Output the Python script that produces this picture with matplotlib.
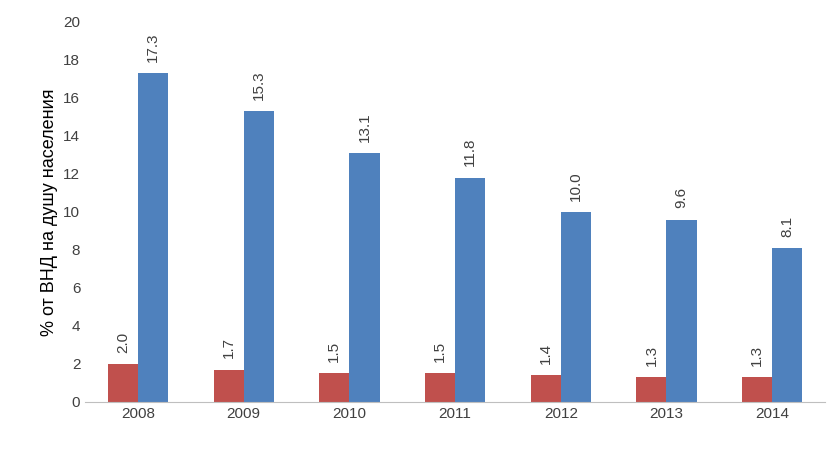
import numpy as np
import matplotlib.pyplot as plt

plt.rcParams["font.family"] = "Liberation Sans"

years = ["2008", "2009", "2010", "2011", "2012", "2013", "2014"]
red_vals = [2.0, 1.7, 1.5, 1.5, 1.4, 1.3, 1.3]
blue_vals = [17.3, 15.3, 13.1, 11.8, 10.0, 9.6, 8.1]
y_ticks = [0, 2, 4, 6, 8, 10, 12, 14, 16, 18, 20]

fig = plt.figure(figsize=(8.35, 4.55), dpi=100)
ax = fig.add_axes([0.102, 0.1165, 0.886, 0.8355])

x = np.arange(len(years))
w = 0.285
rb = ax.bar(x - w / 2, red_vals, w, color="#C0504D")
bb = ax.bar(x + w / 2, blue_vals, w, color="#4F81BD")

for bars, vals in ((rb, red_vals), (bb, blue_vals)):
    for b, v in zip(bars, vals):
        ax.text(b.get_x() + b.get_width() / 2, v + 0.6, f"{v:.1f}",
                rotation=90, ha="center", va="bottom", fontsize=11, color="#404040")

ax.set_xlim(-0.5, len(years) - 0.5)
ax.set_ylim(0, 20)
ax.set_yticks(y_ticks)
ax.set_xticks(x)
ax.set_xticklabels(years)
ax.tick_params(axis="both", length=0, labelsize=11, colors="#404040")
ax.set_ylabel("% от ВНД на душу населения", fontsize=13, color="black")
for s in ("top", "right", "left"):
    ax.spines[s].set_visible(False)
ax.spines["bottom"].set_color("#BFBFBF")

fig.savefig("out.png", dpi=100)
